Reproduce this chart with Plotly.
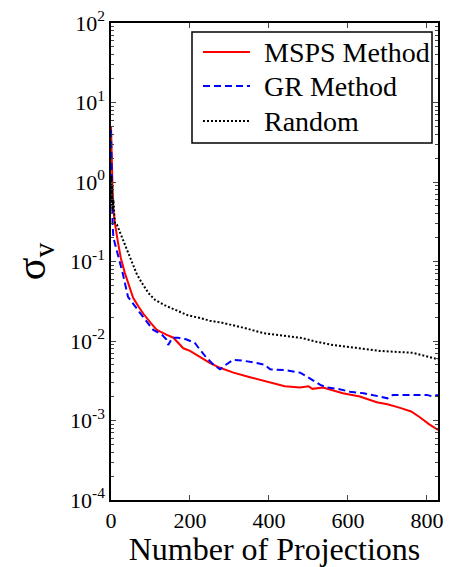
import plotly.graph_objects as go

# MSPS Method
x_msps = [0, 1, 2, 4, 6, 10, 18, 25, 35, 45, 56, 70, 82, 100, 116, 140, 158, 183, 200, 225, 250, 276,
          310, 352, 403, 440, 479, 500, 510, 537, 587, 630, 673, 700, 732, 760, 782, 805, 828]
y_msps = [5.0, 2.5, 1.5, 0.8, 0.45, 0.3, 0.17, 0.11, 0.072, 0.05, 0.035, 0.027, 0.022, 0.017, 0.0138,
          0.012, 0.011, 0.0081, 0.0075, 0.0063, 0.0053, 0.0046, 0.0040, 0.0035, 0.0030, 0.0027, 0.0026,
          0.0027, 0.0025, 0.0026, 0.0022, 0.0020, 0.0017, 0.0016, 0.00144, 0.0013, 0.0011, 0.0009, 0.00076]

# GR Method
x_gr = [0, 1, 2, 4, 6, 10, 15, 20, 23, 30, 36, 43, 55, 69, 85, 107, 129, 140, 145, 155, 170, 190, 212,
        225, 238, 260, 276, 290, 309, 330, 350, 369, 390, 403, 440, 479, 495, 512, 530, 547, 575, 605,
        640, 681, 700, 714, 760, 800, 815, 828]
y_gr = [4.5, 1.5, 0.6, 0.3, 0.2, 0.17, 0.14, 0.11, 0.095, 0.07, 0.05, 0.036, 0.03, 0.024, 0.019, 0.0138,
        0.012, 0.0105, 0.0089, 0.011, 0.011, 0.0105, 0.0095, 0.0078, 0.0065, 0.005, 0.0044, 0.005, 0.0058,
        0.0057, 0.0055, 0.0053, 0.005, 0.0044, 0.0043, 0.0040, 0.0036, 0.0032, 0.0028, 0.0026, 0.0025,
        0.0023, 0.0022, 0.0020, 0.0019, 0.0021, 0.0021, 0.0021, 0.0020, 0.0021]

# Random
x_rnd = [0, 1, 2, 3, 4, 6, 8, 10, 15, 20, 28, 35, 45, 53, 65, 78, 95, 111, 125, 137, 160, 195, 225, 250,
         281, 309, 340, 385, 430, 479, 520, 562, 620, 681, 720, 765, 790, 816, 828]
y_rnd = [0.5, 1.2, 0.6, 0.9, 0.45, 0.6, 0.35, 0.3, 0.29, 0.25, 0.2, 0.17, 0.12, 0.095, 0.07, 0.054, 0.04,
         0.033, 0.03, 0.028, 0.025, 0.021, 0.0195, 0.018, 0.017, 0.0158, 0.0145, 0.0126, 0.0118, 0.011,
         0.0098, 0.0089, 0.0082, 0.0075, 0.0073, 0.0071, 0.0066, 0.0062, 0.0059]

series_names = ["MSPS Method", "GR Method", "Random"]

x_ticks = [0, 200, 400, 600, 800]
y_exponents = [-4, -3, -2, -1, 0, 1, 2]
y_ticks = [10.0 ** e for e in y_exponents]
y_ticktext = ["10<sup>%d</sup>" % e for e in y_exponents]
minor_y = [m * 10.0 ** d for d in y_exponents[:-1] for m in range(2, 10)]

font = "Liberation Serif, Times New Roman, Times, serif"
styles = [dict(color="#ff0000", width=2),
          dict(color="#0000ff", width=2, dash="7px,4px"),
          dict(color="#000000", width=2, dash="2px,2px")]

fig = go.Figure()
for xs, ys, name, st in zip([x_msps, x_gr, x_rnd], [y_msps, y_gr, y_rnd], series_names, styles):
    fig.add_trace(go.Scatter(x=xs, y=ys, mode="lines", name=name, line=st, showlegend=False))

# legend box drawn in paper coordinates (matches the reference's boxed legend)
shapes = [dict(type="rect", xref="paper", yref="paper", x0=0.2477, x1=0.9817, y0=0.7484, y1=0.9811,
               line=dict(color="black", width=1.5), fillcolor="white", layer="above")]
annotations = []
row_y = [0.9392, 0.8679, 0.7945]
for name, st, ry in zip(series_names, styles, row_y):
    shapes.append(dict(type="line", xref="paper", yref="paper", x0=0.2813, x1=0.4251, y0=ry, y1=ry,
                       line=st, layer="above"))
    annotations.append(dict(xref="paper", yref="paper", x=0.4618, y=ry, xanchor="left", yanchor="middle",
                            text=name, showarrow=False, font=dict(family=font, size=28, color="black")))

# page body has an 8px margin: shift/resize so the plot lands where the reference has it
fig.update_layout(
    width=450, height=559,
    margin=dict(l=103, r=20, t=15, b=67),
    paper_bgcolor="white", plot_bgcolor="white",
    font=dict(family=font, color="black"),
    showlegend=False,
    shapes=shapes, annotations=annotations,
    xaxis=dict(range=[0, 828], tickvals=x_ticks, ticks="inside", ticklen=5,
               showline=True, linecolor="black", linewidth=1.5, mirror="ticks",
               showgrid=False, zeroline=False, automargin=False,
               tickfont=dict(family=font, size=22),
               title=dict(text="Number of Projections", font=dict(family=font, size=32), standoff=2)),
    yaxis=dict(type="log", range=[-4, 2], tickvals=y_ticks, ticktext=y_ticktext,
               ticks="inside", ticklen=5, ticklabeloverflow="allow",
               showline=True, linecolor="black", linewidth=1.5, mirror="ticks",
               showgrid=False, zeroline=False, automargin=False,
               minor=dict(tickvals=minor_y, ticks="inside", ticklen=3, showgrid=False),
               tickfont=dict(family=font, size=22),
               title=dict(text="σ<sub>v</sub>", font=dict(family=font, size=42), standoff=18)),
)

fig.write_html("out.html")
